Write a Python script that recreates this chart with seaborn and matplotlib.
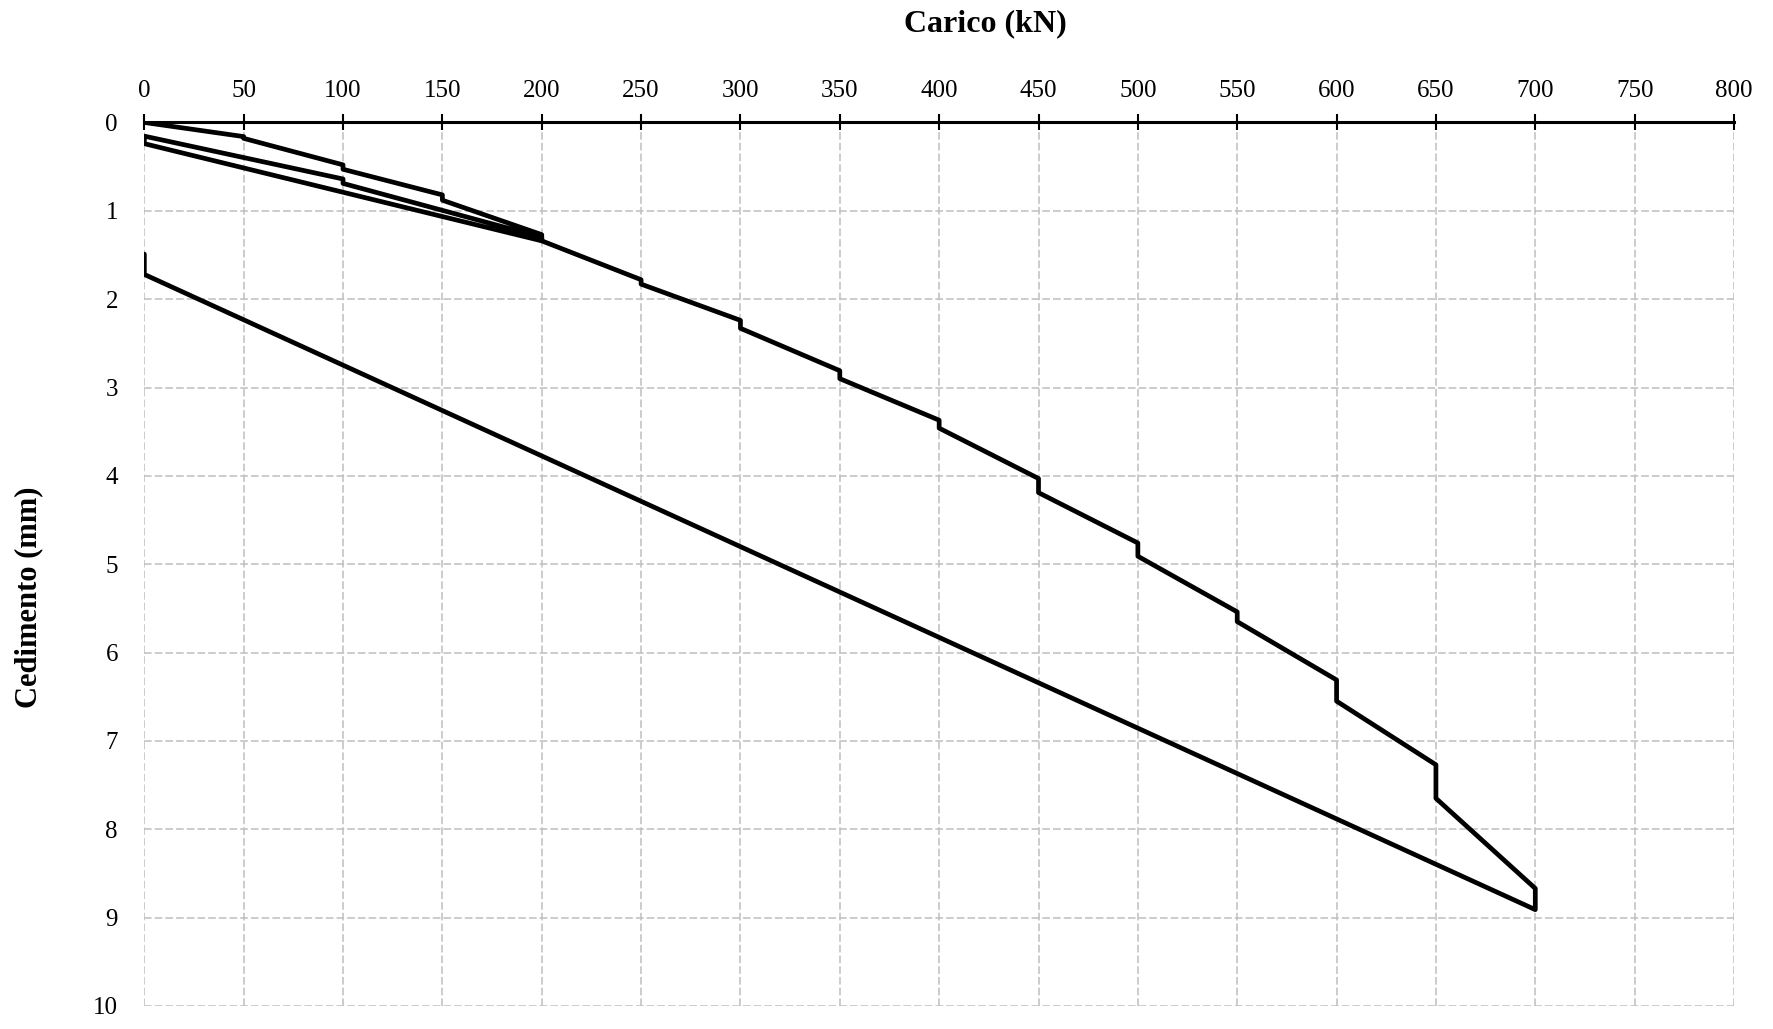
import matplotlib
matplotlib.use("Agg")
import matplotlib.pyplot as plt
import seaborn as sns
import pandas as pd

# Load (kN) and settlement (mm), in test order
carico = [0, 50, 50, 100, 100, 150, 150, 200, 200,
          0, 0, 100, 100, 200, 200,
          250, 250, 300, 300, 350, 350, 400, 400, 450, 450,
          500, 500, 550, 550, 600, 600, 650, 650, 700, 700,
          0, 0]
cedimento = [0.0, 0.16, 0.18, 0.48, 0.53, 0.82, 0.88, 1.27, 1.34,
             0.24, 0.155, 0.64, 0.69, 1.30, 1.34,
             1.78, 1.83, 2.24, 2.33, 2.81, 2.90, 3.37, 3.46, 4.03, 4.19,
             4.76, 4.91, 5.54, 5.65, 6.31, 6.55, 7.27, 7.65, 8.67, 8.91,
             1.72, 1.49]

x_ticks = list(range(0, 801, 50))
y_ticks = list(range(0, 11))

df = pd.DataFrame({"Carico": carico, "Cedimento": cedimento})

sns.set_theme(style="white")
plt.rcParams["font.family"] = ["Liberation Serif", "DejaVu Serif"]

fig = plt.figure(figsize=(17.73, 10.29), dpi=100)
ax = fig.add_axes([0.0814, 0.0224, 0.978 - 0.0814, 0.881 - 0.0224])

sns.lineplot(data=df, x="Carico", y="Cedimento", sort=False, estimator=None,
             color="black", linewidth=3.4, ax=ax, zorder=5)

ax.set_xlim(0, 800)
ax.set_ylim(10, 0)
ax.set_xticks(x_ticks)
ax.set_yticks(y_ticks)
ax.xaxis.tick_top()
ax.set_xlabel("")
ax.set_ylabel("")

for s in ["left", "right", "bottom"]:
    ax.spines[s].set_visible(False)
ax.spines["top"].set_visible(True)
ax.spines["top"].set_color("black")
ax.spines["top"].set_linewidth(2.2)
ax.spines["top"].set_zorder(6)

ax.grid(True, color="#bfbfbf", linestyle=(0, (5, 2)), linewidth=1.1)
ax.set_axisbelow(True)

ax.tick_params(axis="x", which="major", top=True, bottom=False, direction="inout",
               length=11, width=1.5, color="black", labelsize=18, pad=9)
ax.tick_params(axis="y", which="major", left=False, right=False,
               labelsize=18, pad=13)
for lbl in ax.get_xticklabels() + ax.get_yticklabels():
    lbl.set_color("black")

fig.text(0.556, 0.977, "Carico (kN)", ha="center", va="center",
         fontsize=23, fontweight="bold", color="black")
fig.text(0.016, 0.42, "Cedimento (mm)", ha="center", va="center", rotation=90,
         fontsize=22, fontweight="bold", color="black")

fig.savefig("out.png", dpi=100)
